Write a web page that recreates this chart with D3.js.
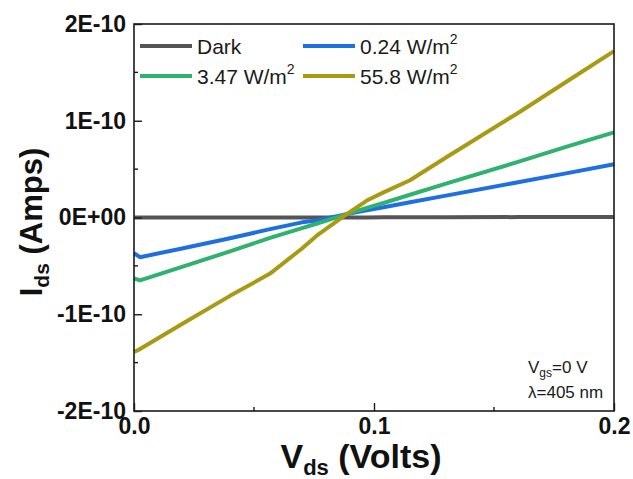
<!DOCTYPE html>
<html>
<head>
<meta charset="utf-8">
<script src="https://cdn.jsdelivr.net/npm/d3@7"></script>
<style>
  body { margin: 0; background: #fff; }
  text { font-family: "Liberation Sans", Arial, sans-serif; }
</style>
</head>
<body>
<svg id="chart" width="633" height="479"></svg>
<script>
// drain-source voltage (V), shared by every curve
var vds = [0, 0.0025, 0.02, 0.04, 0.0567, 0.07, 0.076, 0.0886, 0.097, 0.104, 0.115, 0.13, 0.16, 0.18, 0.2];

// drain current, in units of 1E-10 A
var iDark  = [0, 0, 0, 0, 0, 0, 0, 0.001, 0.001, 0.002, 0.002, 0.003, 0.004, 0.004, 0.005];
var i024   = [-0.37, -0.41, -0.32, -0.215, -0.12, -0.05, -0.03, 0.035, 0.074, 0.106, 0.157, 0.226, 0.364, 0.456, 0.55];
var i347   = [-0.63, -0.65, -0.51, -0.35, -0.21, -0.11, -0.065, 0.035, 0.099, 0.15, 0.235, 0.35, 0.575, 0.73, 0.88];
var i558   = [-1.39, -1.36, -1.10, -0.81, -0.58, -0.32, -0.19, 0.035, 0.175, 0.26, 0.385, 0.62, 1.08, 1.40, 1.72];

var seriesNames  = ['Dark', '0.24 W/m', '3.47 W/m', '55.8 W/m'];
var seriesSup    = ['', '2', '2', '2'];
var seriesColors = ['#555555', '#1e6fe2', '#2fb26f', '#a99a14'];

var xTicks = [0, 0.1, 0.2];
var xTickLabels = ['0.0', '0.1', '0.2'];
var xMinor = [0.05, 0.15];
var yTicks = [2, 1, 0, -1, -2];
var yTickLabels = ['2E-10', '1E-10', '0E+00', '-1E-10', '-2E-10'];
var yMinor = [1.5, 0.5, -0.5, -1.5];

var svg = d3.select('#chart');
var plotL = 134, plotR = 614, plotT = 24, plotB = 411;

var x = d3.scaleLinear().domain([0, 0.2]).range([plotL, plotR]);
var y = d3.scaleLinear().domain([-2, 2]).range([plotB, plotT]);

var series = [iDark, i024, i347, i558].map(function(vals, k){
  return {
    name: seriesNames[k],
    sup: seriesSup[k],
    color: seriesColors[k],
    points: vds.map(function(v, j){ return [v, vals[j]]; })
  };
});

// curves
var line = d3.line()
  .x(function(d){ return x(d[0]); })
  .y(function(d){ return y(d[1]); });

svg.append('g').selectAll('path').data(series).enter().append('path')
  .attr('d', function(d){ return line(d.points); })
  .attr('fill', 'none')
  .attr('stroke', function(d){ return d.color; })
  .attr('stroke-width', 4)
  .attr('stroke-linejoin', 'round');

// frame
svg.append('rect')
  .attr('x', plotL).attr('y', plotT)
  .attr('width', plotR - plotL).attr('height', plotB - plotT)
  .attr('fill', 'none').attr('stroke', '#1a1a1a').attr('stroke-width', 1.6);

// axes, ticks pointing inward
var yAxis = svg.append('g')
  .attr('transform', 'translate(' + plotL + ',0)')
  .call(d3.axisLeft(y).tickValues(yTicks).tickSize(-8).tickPadding(8)
    .tickFormat(function(d, i){ return yTickLabels[i]; }));

var xAxis = svg.append('g')
  .attr('transform', 'translate(0,' + plotB + ')')
  .call(d3.axisBottom(x).tickValues(xTicks).tickSize(-8).tickPadding(7)
    .tickFormat(function(d, i){ return xTickLabels[i]; }));

[yAxis, xAxis].forEach(function(g){
  g.select('.domain').remove();
  g.selectAll('line').attr('stroke', '#1a1a1a').attr('stroke-width', 1.4);
  g.selectAll('text')
    .attr('fill', '#111')
    .attr('font-size', 23)
    .attr('font-weight', 'bold')
    .style('font-family', '"Liberation Sans", Arial, sans-serif');
});

svg.append('g').selectAll('line').data(yMinor).enter().append('line')
  .attr('x1', plotL).attr('x2', plotL + 4)
  .attr('y1', function(d){ return y(d); }).attr('y2', function(d){ return y(d); })
  .attr('stroke', '#1a1a1a').attr('stroke-width', 1.4);

svg.append('g').selectAll('line').data(xMinor).enter().append('line')
  .attr('x1', function(d){ return x(d); }).attr('x2', function(d){ return x(d); })
  .attr('y1', plotB).attr('y2', plotB - 4)
  .attr('stroke', '#1a1a1a').attr('stroke-width', 1.4);

// axis titles
var xTitle = svg.append('text')
  .attr('x', 361).attr('y', 468)
  .attr('text-anchor', 'middle')
  .attr('font-size', 34).attr('font-weight', 'bold').attr('fill', '#111');
xTitle.append('tspan').text('V');
xTitle.append('tspan').attr('font-size', 22).attr('dy', 7).text('ds');
xTitle.append('tspan').attr('dy', -7).text(' (Volts)');

var yTitle = svg.append('text')
  .attr('transform', 'translate(42,222) rotate(-90)')
  .attr('text-anchor', 'middle')
  .attr('font-size', 31).attr('font-weight', 'bold').attr('fill', '#111');
yTitle.append('tspan').text('I');
yTitle.append('tspan').attr('font-size', 21).attr('dy', 7).text('ds');
yTitle.append('tspan').attr('dy', -7).text(' (Amps)');

// legend, two columns
var legend = svg.append('g').selectAll('g').data(series).enter().append('g')
  .attr('transform', function(d, i){
    var lx = (i % 2 === 0) ? 140 : 303;
    var ly = (i < 2) ? 46 : 76;
    return 'translate(' + lx + ',' + ly + ')';
  })
  .each(function(d){
    var g = d3.select(this);
    g.append('line')
      .attr('x1', 0).attr('x2', 52)
      .attr('stroke', d.color).attr('stroke-width', 4);
    var t = g.append('text')
      .attr('x', 57).attr('y', 8)
      .attr('font-size', 21).attr('fill', '#1a1a1a');
    t.append('tspan').text(d.name);
    if (d.sup) t.append('tspan').attr('font-size', 14).attr('dy', -10).text(d.sup);
  });

// measurement conditions
var note1 = svg.append('text')
  .attr('x', 528).attr('y', 373)
  .attr('font-size', 17).attr('fill', '#1a1a1a');
note1.append('tspan').text('V');
note1.append('tspan').attr('font-size', 12).attr('dy', 4).text('gs');
note1.append('tspan').attr('dy', -4).text('=0 V');

svg.append('text')
  .attr('x', 528).attr('y', 398)
  .attr('font-size', 17).attr('fill', '#1a1a1a')
  .text('λ=405 nm');
</script>
</body>
</html>
